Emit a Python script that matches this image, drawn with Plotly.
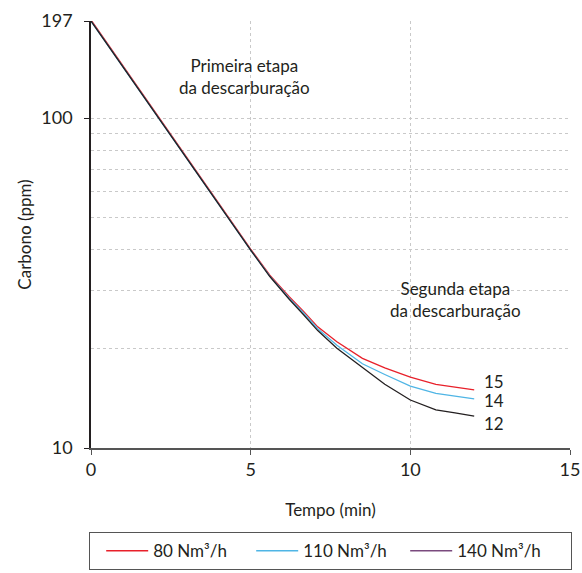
import math
import plotly.graph_objects as go

# ---- data ----
tempo = [0, 1, 2, 3, 4, 5, 5.6, 6.2, 6.65, 7.1, 7.7, 8.5, 9.2, 10, 10.8, 11.4, 12]
carbono_80 = [198.5, 144, 104.8, 76.0, 55.2, 40.1, 33.4, 28.8, 26.0, 23.3, 21.0, 18.7, 17.5, 16.4, 15.6, 15.3, 15.0]
carbono_110 = [197, 143, 104, 75.5, 54.8, 39.8, 33.2, 28.5, 25.7, 23.0, 20.5, 18.0, 16.7, 15.4, 14.65, 14.4, 14.1]
carbono_140 = [197, 143, 104, 75.5, 54.8, 39.8, 33.1, 28.3, 25.4, 22.7, 20.05, 17.5, 15.6, 13.98, 13.04, 12.77, 12.5]

series_names = ["80 Nm³/h", "110 Nm³/h", "140 Nm³/h"]
line_colors = ["#e8202a", "#4fb5e5", "#231f20"]
legend_colors = ["#e8202a", "#4fb5e5", "#7a4a7e"]
end_labels = ["15", "14", "12"]
end_label_y = [15.96, 13.96, 11.9]

x_ticks = [0, 5, 10, 15]
y_ticks = [10, 100, 197]
x_grid = [5, 10]
y_grid = [20, 30, 40, 50, 60, 70, 80, 90, 100]

FONT = "Lato, 'Open Sans', sans-serif"
TXT = "#231f20"
y_range = [1, math.log10(197)]
legend_entry_widths = [82, 86, 108]

fig = go.Figure()

# legend-only entries (on the grid subplot so that it is drawn)
for name, col, lw in zip(series_names, legend_colors, legend_entry_widths):
    fig.add_trace(go.Scatter(x=[None], y=[None], mode="lines", name=name,
                             line=dict(color=col, width=1.4), legendwidth=lw,
                             showlegend=True, xaxis="x", yaxis="y"))

series = [carbono_80, carbono_110, carbono_140]
for name, vals, col in zip(series_names, series, line_colors):
    fig.add_trace(go.Scatter(x=tempo, y=vals, mode="lines", name=name,
                             line=dict(color=col, width=1.3),
                             showlegend=False, xaxis="x2", yaxis="y2",
                             hoverinfo="skip"))

grid_style = dict(showgrid=True, gridcolor="#c9c9c9", gridwidth=1, griddash="3px,3px",
                  showline=False, zeroline=False, ticks="", showticklabels=False,
                  automargin=False)

fig.update_layout(
    width=582, height=573,
    margin=dict(l=91, r=12, t=21, b=125),
    paper_bgcolor="white", plot_bgcolor="white",
    font=dict(family=FONT, size=17, color=TXT),
    xaxis=dict(range=[0, 15], tickmode="array", tickvals=x_grid, **grid_style),
    yaxis=dict(type="log", range=y_range, tickmode="array", tickvals=y_grid, **grid_style),
    xaxis2=dict(overlaying="x", anchor="y2", side="bottom", range=[0, 15],
                tickmode="array", tickvals=x_ticks, ticks="outside", ticklen=5,
                tickcolor="#555555", tickwidth=1.3,
                showline=True, linecolor="#555555", linewidth=1.5,
                showgrid=False, zeroline=False, automargin=False,
                tickfont=dict(size=18, color=TXT),
                title=dict(text="Tempo (min)", font=dict(size=17, color=TXT), standoff=25)),
    yaxis2=dict(overlaying="y", anchor="x2", side="left", type="log", range=y_range,
                tickmode="array", tickvals=y_ticks, ticktext=[str(v) for v in y_ticks],
                ticks="outside", ticklen=5, tickcolor="#231f20", tickwidth=1.3,
                showline=True, linecolor="#231f20", linewidth=1.5,
                showgrid=False, zeroline=False, ticklabelstandoff=8, automargin=False,
                tickfont=dict(size=18, color=TXT),
                title=dict(text="Carbono (ppm)", font=dict(size=17, color=TXT), standoff=5)),
    legend=dict(orientation="h", xref="container", yref="container",
                x=0.1529, xanchor="left", y=0.07155, yanchor="top",
                bordercolor="#555555", borderwidth=1.2, bgcolor="white",
                itemwidth=42, indentation=11,
                font=dict(size=17, color=TXT)),
)

fig.add_annotation(text="Primeira etapa<br>da descarburação", xref="paper", yref="paper",
                   x=0.3215, y=0.869, xanchor="center", yanchor="middle",
                   showarrow=False, font=dict(size=17, color=TXT))
fig.add_annotation(text="Segunda etapa<br>da descarburação", xref="paper", yref="paper",
                   x=0.762, y=0.348, xanchor="center", yanchor="middle",
                   showarrow=False, font=dict(size=17, color=TXT))
for lab, yv in zip(end_labels, end_label_y):
    fig.add_annotation(text=lab, xref="x2", yref="y2", x=12.25, y=math.log10(yv),
                       xanchor="left", yanchor="middle", showarrow=False,
                       font=dict(size=17, color=TXT))

fig.write_html("out.html")
